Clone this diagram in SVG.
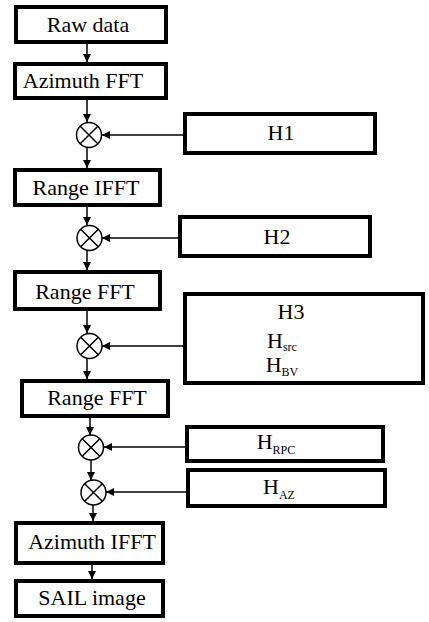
<svg xmlns="http://www.w3.org/2000/svg" width="429" height="622" viewBox="0 0 429 622">
<style>
.box{fill:#fff;stroke:#000;stroke-width:4}
.t{font-family:"Liberation Serif","Times New Roman",serif;font-size:22px;fill:#000;text-anchor:middle}
.s{font-size:12px}
.c{fill:#fff;stroke:#000;stroke-width:1.5}
.x{stroke:#000;stroke-width:1.5}
.l{stroke:#000;stroke-width:1.5;fill:none;marker-end:url(#ah)}
</style>
<defs>
<marker id="ah" viewBox="0 0 10 10" refX="10" refY="5" markerWidth="8" markerHeight="8" markerUnits="userSpaceOnUse" orient="auto">
<path d="M0,0 L10,5 L0,10 z" fill="#000"/>
</marker>
</defs>
<rect width="429" height="622" fill="#fff"/>
<g id="connectors">
<line class="l" x1="87" y1="44" x2="87" y2="62"/>
<line class="l" x1="87" y1="100" x2="87" y2="122"/>
<line class="l" x1="87" y1="148" x2="87" y2="168"/>
<line class="l" x1="183" y1="135" x2="102" y2="135"/>
<line class="l" x1="87" y1="207" x2="87" y2="225"/>
<line class="l" x1="87" y1="251" x2="87" y2="270"/>
<line class="l" x1="178" y1="238" x2="102" y2="238"/>
<line class="l" x1="87" y1="311" x2="87" y2="333"/>
<line class="l" x1="87" y1="359" x2="87" y2="379"/>
<line class="l" x1="183" y1="346" x2="102" y2="346"/>
<line class="l" x1="90" y1="418" x2="90" y2="435"/>
<line class="l" x1="91" y1="460" x2="91" y2="480"/>
<line class="l" x1="185" y1="447" x2="104" y2="447"/>
<line class="l" x1="93" y1="505" x2="93" y2="521"/>
<line class="l" x1="186" y1="492" x2="106" y2="492"/>
<line class="l" x1="92" y1="565" x2="92" y2="579"/>
</g>
<g id="raw"><rect class="box" x="16" y="7" width="150" height="35"/><text class="t" x="88" y="32">Raw data</text></g>
<g id="azfft"><rect class="box" x="15" y="64" width="151" height="34"/><text class="t" x="83" y="88">Azimuth FFT</text></g>
<g id="m1"><circle class="c" cx="89" cy="135" r="12.5"/><path class="x" d="M80.2,126.2 L97.8,143.8 M97.8,126.2 L80.2,143.8"/></g>
<g id="h1"><rect class="box" x="185" y="114" width="190" height="39"/><text class="t" x="281" y="140">H1</text></g>
<g id="rifft"><rect class="box" x="15" y="170" width="145" height="35"/><text class="t" x="86" y="195">Range IFFT</text></g>
<g id="m2"><circle class="c" cx="89.5" cy="238" r="12.5"/><path class="x" d="M80.7,229.2 L98.3,246.8 M98.3,229.2 L80.7,246.8"/></g>
<g id="h2"><rect class="box" x="180" y="217" width="190" height="39"/><text class="t" x="277" y="244">H2</text></g>
<g id="rfft1"><rect class="box" x="15" y="272" width="145" height="37"/><text class="t" x="85" y="299">Range FFT</text></g>
<g id="m3"><circle class="c" cx="89.5" cy="346" r="12.5"/><path class="x" d="M80.7,337.2 L98.3,354.8 M98.3,337.2 L80.7,354.8"/></g>
<g id="h3"><rect class="box" x="185" y="294" width="238" height="89"/>
<text class="t" x="291" y="319">H3</text>
<text class="t" x="282" y="348" text-anchor="start">H<tspan class="s" dy="3">src</tspan></text>
<text class="t" x="282" y="372" text-anchor="start">H<tspan class="s" dy="4">BV</tspan></text>
</g>
<g id="rfft2"><rect class="box" x="22" y="381" width="146" height="35"/><text class="t" x="97" y="405">Range FFT</text></g>
<g id="m4"><circle class="c" cx="91" cy="447.5" r="12.5"/><path class="x" d="M82.2,438.7 L99.8,456.3 M99.8,438.7 L82.2,456.3"/></g>
<g id="hrpc"><rect class="box" x="187" y="427" width="196" height="34"/><text class="t" x="276" y="449" text-anchor="start">H<tspan class="s" dy="5">RPC</tspan></text></g>
<g id="m5"><circle class="c" cx="93.5" cy="492.5" r="12.5"/><path class="x" d="M84.7,483.7 L102.3,501.3 M102.3,483.7 L84.7,501.3"/></g>
<g id="haz"><rect class="box" x="188" y="470" width="197" height="36"/><text class="t" x="279" y="494" text-anchor="start">H<tspan class="s" dy="5">AZ</tspan></text></g>
<g id="azifft"><rect class="box" x="16" y="523" width="147" height="40"/><text class="t" x="92" y="549">Azimuth IFFT</text></g>
<g id="sail"><rect class="box" x="16" y="581" width="147" height="35"/><text class="t" x="92" y="605">SAIL image</text></g>
</svg>
